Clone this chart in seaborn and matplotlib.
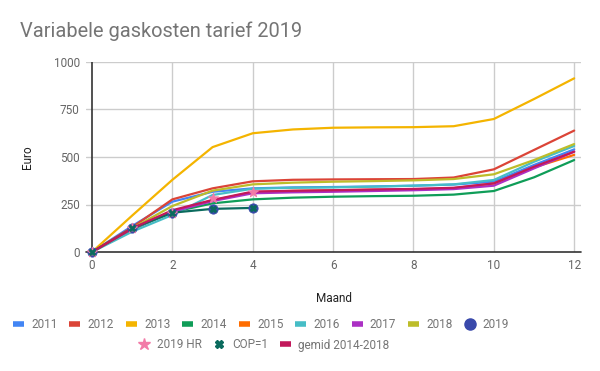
import numpy as np
import pandas as pd
import matplotlib
matplotlib.use("Agg")
import matplotlib.pyplot as plt
from matplotlib.lines import Line2D
import seaborn as sns

months = list(range(13))
y2011 = [0, 137, 265, 317, 335, 340, 342, 345, 349, 355, 370, 458, 540]
y2012 = [0, 130, 277, 335, 372, 380, 382, 383, 384, 392, 435, 537, 639]
y2013 = [0, 192, 380, 552, 625, 645, 654, 656, 657, 662, 700, 805, 914]
y2014 = [0, 118, 210, 256, 277, 286, 291, 294, 296, 302, 321, 393, 484]
y2015 = [0, 122, 215, 272, 315, 322, 325, 328, 330, 336, 361, 445, 511]
y2016 = [0, 107, 195, 300, 333, 338, 340, 344, 349, 356, 379, 475, 558]
y2017 = [0, 122, 212, 268, 309, 314, 317, 321, 325, 331, 349, 440, 528]
y2018 = [0, 125, 242, 323, 356, 365, 370, 373, 377, 384, 409, 484, 568]
gemid = [0, 125, 220, 274, 318, 322, 325, 329, 332, 338, 361, 449, 528]
months19 = [0, 1, 2, 3, 4]
y2019 = [0, 125, 207, 227, 232]
y2019hr = [0, 125, 207, 282, 316]
cop1 = [0, 125, 207, 227, 232]

line_series = [
    ("2011", y2011, "#4285F4"),
    ("2012", y2012, "#DB4437"),
    ("2013", y2013, "#F4B400"),
    ("2014", y2014, "#0F9D58"),
    ("2015", y2015, "#FF6D00"),
    ("2016", y2016, "#46BDC6"),
    ("2017", y2017, "#AB30C4"),
    ("2018", y2018, "#BDBD2A"),
]
c2019 = "#3949AB"
chr_ = "#F27BA8"
ccop = "#0B6B5E"
cgem = "#C2185B"

sns.set_style("white")
plt.rcParams['font.family'] = ['Roboto', 'DejaVu Sans']

fig = plt.figure(figsize=(6, 3.71), dpi=100)
ax = fig.add_axes([86/600, 1-252/371, (581-86)/600, 190/371])

for name, vals, col in line_series:
    sns.lineplot(x=months, y=vals, color=col, lw=1.6, ax=ax, clip_on=False, zorder=3)
sns.scatterplot(x=months19, y=y2019, color=c2019, s=45, ax=ax, zorder=5, edgecolor=c2019, clip_on=False)
sns.scatterplot(x=months19, y=y2019hr, color=chr_, marker="*", s=60, ax=ax, zorder=5, edgecolor=chr_, clip_on=False)
sns.lineplot(x=months19, y=cop1, color=ccop, lw=1.6, ax=ax, zorder=4, clip_on=False)
sns.scatterplot(x=months19, y=cop1, color=ccop, marker="X", s=25, ax=ax, zorder=6, edgecolor=ccop, clip_on=False)
sns.lineplot(x=months, y=gemid, color=cgem, lw=1.6, ax=ax, zorder=4, clip_on=False)

ax.set_xlim(-0.15, 12.17)
ax.set_ylim(0, 1000)
ax.set_xticks([0, 2, 4, 6, 8, 10, 12])
ax.set_yticks([0, 250, 500, 750, 1000])
ax.set_yticklabels(["0", "250", "500", "750", "1000"])
for s in ax.spines.values():
    s.set_visible(False)
for yv in [250, 500, 750, 1000]:
    ax.axhline(yv, color="#cccccc", lw=1, zorder=1)
for xv in [2, 4, 6, 8, 10, 12]:
    ax.axvline(xv, color="#cccccc", lw=1, zorder=1)
ax.axhline(0, color="#333333", lw=1.2, zorder=2, clip_on=False)
ax.axvline(0, color="#333333", lw=1.2, zorder=2)
ax.tick_params(axis="both", length=0, labelsize=8.5, labelcolor="#666666")
ax.tick_params(axis="y", pad=4.5)
ax.tick_params(axis="x", pad=5)
ax.set_xlabel("")
ax.set_ylabel("")

fig.text(20/600, 1-37/371, "Variabele gaskosten tarief 2019", fontsize=14.4,
         color="#757575", va="baseline", ha="left")
fig.text(334/600, 1-298/371, "Maand", fontsize=8.5, color="#222222", ha="center", va="center")
fig.text(27/600, 1-157/371, "Euro", fontsize=8.5, color="#222222", ha="center", va="center", rotation=90)

def patch(col):
    return Line2D([0], [0], color=col, lw=4, solid_capstyle="butt")

h1 = [patch(c) for _, _, c in line_series] + [
    Line2D([0], [0], color=c2019, marker="o", ls="none", markersize=8)]
l1 = [n for n, _, _ in line_series] + ["2019"]
h2 = [Line2D([0], [0], color=chr_, marker="*", ls="none", markersize=9),
      Line2D([0], [0], color=ccop, marker="X", ls="none", markersize=6),
      patch(cgem)]
l2 = ["2019 HR", "COP=1", "gemid 2014-2018"]

leg_kw = dict(frameon=False, fontsize=8.5, labelcolor="#757575", handlelength=0.95,
              handletextpad=0.6, columnspacing=1.0, borderaxespad=0, borderpad=0)
leg1 = fig.legend(h1, l1, ncol=9, loc="center", bbox_to_anchor=(261/600, 1-325/371), **leg_kw)
leg2 = fig.legend(h2, l2, ncol=3, loc="center", bbox_to_anchor=(264/600, 1-345/371), **leg_kw)

fig.savefig("out.png", dpi=100)
